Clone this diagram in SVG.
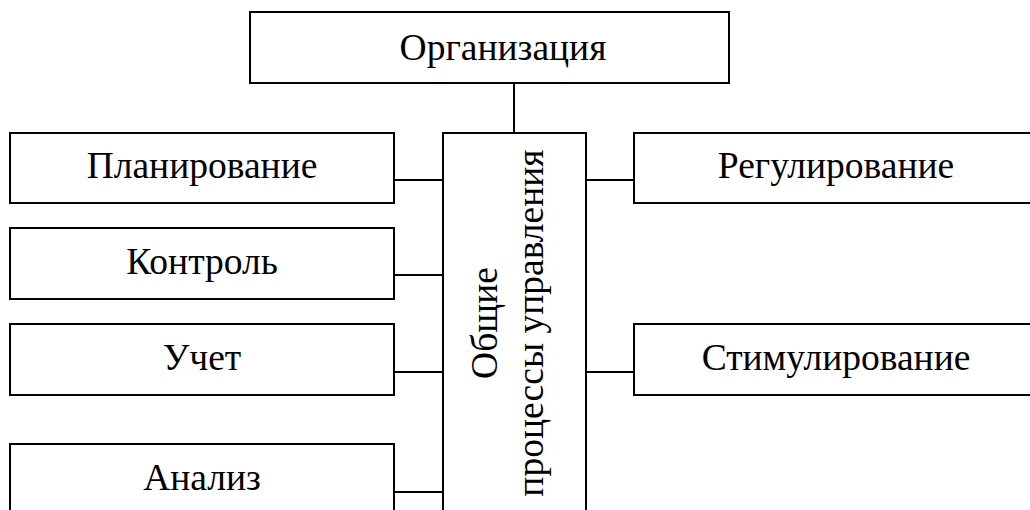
<svg xmlns="http://www.w3.org/2000/svg" width="1030" height="510" viewBox="0 0 1030 510">
<style>
.box{fill:#fff;stroke:#000;stroke-width:2}
.ln{stroke:#000;stroke-width:2;fill:none}
text{font-family:"Liberation Serif","Times New Roman",serif;font-size:37.5px;fill:#000;text-anchor:middle}
</style>
<rect width="1030" height="510" fill="#fff"/>
<g id="connectors">
<line class="ln" x1="514" y1="83" x2="514" y2="133"/>
<line class="ln" x1="394" y1="180" x2="443" y2="180"/>
<line class="ln" x1="394" y1="275" x2="443" y2="275"/>
<line class="ln" x1="394" y1="372" x2="443" y2="372"/>
<line class="ln" x1="394" y1="492" x2="443" y2="492"/>
<line class="ln" x1="586" y1="180" x2="634" y2="180"/>
<line class="ln" x1="586" y1="372" x2="634" y2="372"/>
</g>
<g id="org"><rect class="box" x="250" y="12" width="479" height="71"/><text x="503" y="60">Организация</text></g>
<g id="center"><rect class="box" x="443" y="133" width="143" height="390"/>
<text transform="translate(497,323) rotate(-90)">Общие</text>
<text transform="translate(543,323) rotate(-90)">процессы управления</text></g>
<g id="plan"><rect class="box" x="10" y="133" width="384" height="70"/><text x="202" y="178">Планирование</text></g>
<g id="control"><rect class="box" x="10" y="228" width="384" height="71"/><text x="202" y="274">Контроль</text></g>
<g id="uchet"><rect class="box" x="10" y="324" width="384" height="71"/><text x="202" y="370">Учет</text></g>
<g id="analiz"><rect class="box" x="10" y="444" width="384" height="80"/><text x="202" y="490">Анализ</text></g>
<g id="regul"><rect class="box" x="634" y="133" width="410" height="70"/><text x="836" y="178">Регулирование</text></g>
<g id="stim"><rect class="box" x="634" y="324" width="410" height="71"/><text x="836" y="370">Стимулирование</text></g>
</svg>
